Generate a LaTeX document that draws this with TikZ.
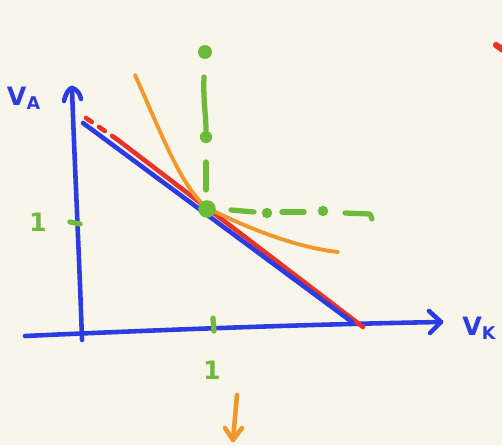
\documentclass[tikz,border=0pt]{standalone}
\usepackage{fontspec}
\setmainfont{DejaVu Sans}
\begin{document}
\begin{tikzpicture}[x=0.02cm,y=-0.02cm,
  pen/.style={line width=2.6pt,line cap=round,line join=round},
  blueink/.style={pen,draw=inkblue},
  redink/.style={pen,draw=inkred},
  orangeink/.style={pen,draw=inkorange,line width=2.2pt},
  greenink/.style={pen,draw=inkgreen,line width=3pt},
  gdot/.style={circle,fill=inkgreen,inner sep=0pt,minimum size=7pt},
  lab/.style={font=\bfseries\Large,inner sep=0pt}]
\definecolor{bg}{HTML}{F8F5EA}
\definecolor{inkblue}{HTML}{2B3CE2}
\definecolor{inkred}{HTML}{E8322A}
\definecolor{inkorange}{HTML}{F0982C}
\definecolor{inkgreen}{HTML}{6EBB3C}
\fill[bg] (0,0) rectangle (502,445);
\useasboundingbox (0,0) rectangle (502,445);
% axes
\coordinate (o1) at (25,336);
\coordinate (xe) at (441,322);
\coordinate (yb) at (82,340);
\coordinate (ye) at (72,88);
\draw[blueink] (o1) .. controls (200,328) and (330,324) .. (xe);
\draw[blueink] (429,311) -- (xe) -- (430,333);
\draw[blueink] (yb) .. controls (79,250) and (74,150) .. (ye);
\draw[blueink] (64,101) .. controls (66,92) and (70,88) .. (ye) .. controls (76,89) and (80,93) .. (81,99);
\node[lab,text=inkblue] (va) at (24,98) {V\textsubscript{A}};
\node[lab,text=inkblue,anchor=west] (vk) at (462,328) {V\textsubscript{K}};
% budget lines
\coordinate (b1) at (83,123);
\coordinate (b2) at (352,322);
\coordinate (r0) at (86,118);
\coordinate (r1) at (118,140);
\coordinate (r2) at (363,327);
\draw[redink,dash pattern=on 4pt off 5pt] (r0) -- (r1);
\draw[redink] (r1) -- (r2);
\draw[blueink] (b1) -- (b2);
% indifference curve
\coordinate (c0) at (135,75);
\coordinate (c1) at (206,207);
\coordinate (c2) at (338,252);
\draw[orangeink] (c0) .. controls (160,130) and (180,185) .. (c1) .. controls (250,230) and (300,248) .. (c2);
% green optimum
\node[gdot,minimum size=10pt] (opt) at (207,209) {};
\node[gdot,minimum size=8pt] (vtop) at (205,52) {};
\node[gdot] (vmid) at (206,137) {};
\coordinate (v1a) at (204,77);
\coordinate (v1b) at (206,130);
\coordinate (v2a) at (206,162);
\coordinate (v2b) at (206,190);
\draw[greenink] (v1a) .. controls (203,100) and (206,115) .. (v1b);
\draw[greenink] (v2a) -- (v2b);
\coordinate (h1a) at (231,210);
\coordinate (h1b) at (254,212);
\coordinate (h2a) at (282,212);
\coordinate (h2b) at (304,212);
\coordinate (h3a) at (345,213);
\coordinate (h3b) at (370,214);
\draw[greenink] (h1a) -- (h1b);
\draw[greenink] (h2a) -- (h2b);
\draw[greenink] (h3a) -- (h3b) -- (372,219);
\node[gdot,minimum size=6pt] (hd1) at (267,213) {};
\node[gdot,minimum size=6pt] (hd2) at (323,211) {};
% ticks and labels
\coordinate (t1) at (70,222);
\coordinate (t2) at (80,224);
\draw[greenink] (t1) -- (t2);
\coordinate (t3) at (213,318);
\coordinate (t4) at (214,331);
\draw[greenink] (t3) -- (t4);
\node[lab,text=inkgreen] (one1) at (38,222) {1};
\node[lab,text=inkgreen] (one2) at (212,370) {1};
% orange arrow
\coordinate (a0) at (237,395);
\coordinate (a1) at (233,440);
\draw[orangeink,line width=2.6pt] (a0) -- (a1);
\draw[orangeink,line width=2.6pt] (225,428) -- (a1) -- (242,428);
% red mark top right
\coordinate (m0) at (496,45);
\coordinate (m1) at (503,50);
\draw[redink,line width=3.5pt] (m0) -- (m1);
\end{tikzpicture}
\end{document}
